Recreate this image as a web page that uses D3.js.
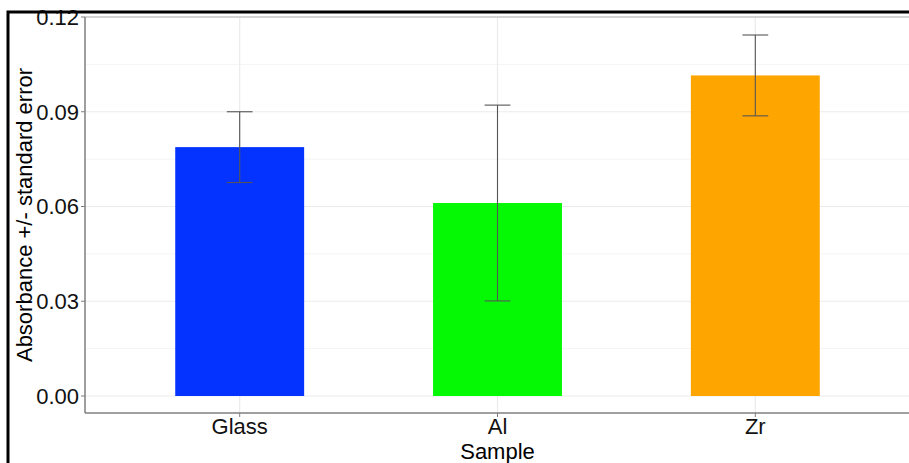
<!DOCTYPE html>
<html>
<head>
<meta charset="utf-8">
<script src="https://cdn.jsdelivr.net/npm/d3@7"></script>
<style>
  html, body { margin: 0; padding: 0; background: #fff; }
  svg { display: block; }
  text { font-family: "Liberation Sans", Arial, sans-serif; }
</style>
</head>
<body>
<svg id="chart" width="909" height="463"></svg>
<script>
// Mean absorbance per sample and its standard error
const samples = ["Glass", "Al", "Zr"];
const means = [0.0788, 0.0611, 0.1015];
const stdErrors = [0.0112, 0.0310, 0.0128];
const barColors = ["#0433FF", "#05F905", "#FFA500"];
const yTicks = [0.00, 0.03, 0.06, 0.09, 0.12];
const yMinor = [0.015, 0.045, 0.075, 0.105];

const svg = d3.select("#chart");
const W = 909, H = 463;

// panel geometry (right edge runs just past the window)
const panel = { left: 85, top: 17, right: 910, bottom: 413 };

// discrete x axis: 3 categories with 0.6 expansion on each side
const x = d3.scalePoint()
  .domain(samples)
  .range([panel.left + (panel.right - panel.left) * 0.6 / 3.2,
          panel.right - (panel.right - panel.left) * 0.6 / 3.2]);
const unit = x.step();

const y = d3.scaleLinear()
  .domain([0, 0.12])
  .range([396, 17]);

const data = samples.map((s, i) => ({ s, m: means[i], se: stdErrors[i], c: barColors[i] }));

// gridlines
const grid = svg.append("g");
grid.selectAll("line.minor").data(yMinor).join("line")
  .attr("x1", panel.left).attr("x2", panel.right)
  .attr("y1", d => y(d)).attr("y2", d => y(d))
  .attr("stroke", "#f4f4f4").attr("stroke-width", 1);
grid.selectAll("line.major").data(yTicks).join("line")
  .attr("x1", panel.left).attr("x2", panel.right)
  .attr("y1", d => y(d)).attr("y2", d => y(d))
  .attr("stroke", "#ebebeb").attr("stroke-width", 1.2);
grid.selectAll("line.vx").data(samples).join("line")
  .attr("x1", d => x(d)).attr("x2", d => x(d))
  .attr("y1", panel.top).attr("y2", panel.bottom)
  .attr("stroke", "#ebebeb").attr("stroke-width", 1.2);

// bars
const barW = unit * 0.5;
svg.append("g").selectAll("rect").data(data).join("rect")
  .attr("x", d => x(d.s) - barW / 2)
  .attr("width", barW)
  .attr("y", d => y(d.m))
  .attr("height", d => y(0) - y(d.m))
  .attr("fill", d => d.c);

// error bars
const capW = unit * 0.1;
const eb = svg.append("g").attr("stroke", "#555").attr("stroke-width", 1.1);
eb.selectAll("line.v").data(data).join("line")
  .attr("x1", d => x(d.s)).attr("x2", d => x(d.s))
  .attr("y1", d => y(d.m + d.se)).attr("y2", d => y(d.m - d.se));
eb.selectAll("line.t").data(data).join("line")
  .attr("x1", d => x(d.s) - capW / 2).attr("x2", d => x(d.s) + capW / 2)
  .attr("y1", d => y(d.m + d.se)).attr("y2", d => y(d.m + d.se));
eb.selectAll("line.b").data(data).join("line")
  .attr("x1", d => x(d.s) - capW / 2).attr("x2", d => x(d.s) + capW / 2)
  .attr("y1", d => y(d.m - d.se)).attr("y2", d => y(d.m - d.se));

// panel border
svg.append("line").attr("x1", panel.left).attr("x2", panel.right)
  .attr("y1", panel.top).attr("y2", panel.top)
  .attr("stroke", "#b3b3b3").attr("stroke-width", 1.2);
svg.append("line").attr("x1", panel.left).attr("x2", panel.left)
  .attr("y1", panel.top).attr("y2", panel.bottom)
  .attr("stroke", "#7f7f7f").attr("stroke-width", 1.5);
svg.append("line").attr("x1", panel.left).attr("x2", panel.right)
  .attr("y1", panel.bottom).attr("y2", panel.bottom)
  .attr("stroke", "#7f7f7f").attr("stroke-width", 1.5);

// y axis ticks and labels
const ya = svg.append("g");
ya.selectAll("line").data(yTicks).join("line")
  .attr("x1", panel.left - 4).attr("x2", panel.left)
  .attr("y1", d => y(d)).attr("y2", d => y(d))
  .attr("stroke", "#7f7f7f");
ya.selectAll("text").data(yTicks).join("text")
  .attr("x", panel.left - 6).attr("y", d => y(d))
  .attr("dy", "0.36em")
  .attr("text-anchor", "end")
  .attr("font-size", 22).attr("fill", "#111")
  .text(d => d3.format(".2f")(d));

// x axis ticks and labels
const xa = svg.append("g");
xa.selectAll("line").data(samples).join("line")
  .attr("x1", d => x(d)).attr("x2", d => x(d))
  .attr("y1", panel.bottom).attr("y2", panel.bottom + 4)
  .attr("stroke", "#7f7f7f");
xa.selectAll("text").data(samples).join("text")
  .attr("x", d => x(d)).attr("y", 433.5)
  .attr("text-anchor", "middle")
  .attr("font-size", 22).attr("fill", "#111")
  .text(d => d);

// axis titles
svg.append("text")
  .attr("x", x("Al")).attr("y", 458.5)
  .attr("text-anchor", "middle").attr("font-size", 22).attr("fill", "#000")
  .text("Sample");
svg.append("text")
  .attr("transform", `translate(32,${(panel.top + panel.bottom) / 2}) rotate(-90)`)
  .attr("text-anchor", "middle").attr("font-size", 22).attr("fill", "#000")
  .text("Absorbance +/- standard error");

// outer frame
svg.append("rect")
  .attr("x", 8).attr("y", 12).attr("width", W + 20).attr("height", H + 20)
  .attr("fill", "none").attr("stroke", "#000").attr("stroke-width", 3);
</script>
</body>
</html>
